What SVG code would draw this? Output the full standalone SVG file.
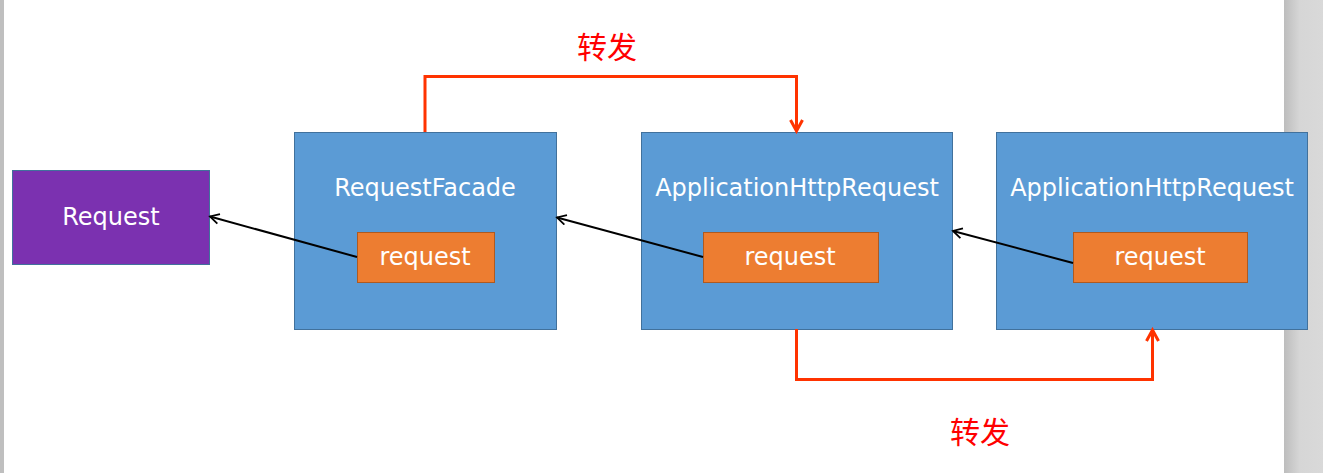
<svg xmlns="http://www.w3.org/2000/svg" width="1323" height="473" viewBox="0 0 1323 473">
<style>
.outer{fill:#5B9BD5;stroke:#41719C;stroke-width:1}
.inner{fill:#ED7D31;stroke:#AE5A21;stroke-width:1}
.lbl{font-family:"DejaVu Sans",Verdana,sans-serif;font-size:24px;fill:#ffffff;text-anchor:middle}
.cn{font-family:"Noto Sans CJK SC",sans-serif;font-size:30px;fill:#FF0000;text-anchor:middle}
.blk{stroke:#000;stroke-width:2;fill:none}
.red{stroke:#FF3300;stroke-width:3;fill:none}
</style>
<defs>
<linearGradient id="side" x1="0" y1="0" x2="1" y2="0">
<stop offset="0" stop-color="#bdbdbd"/>
<stop offset="0.4" stop-color="#d6d6d6"/>
<stop offset="1" stop-color="#d9d9d9"/>
</linearGradient>
<marker id="ab" markerWidth="12" markerHeight="12" refX="10" refY="6" orient="auto" markerUnits="userSpaceOnUse">
<path d="M1,1 L10,6 L1,11" fill="none" stroke="#000" stroke-width="1.8"/>
</marker>
<marker id="ar" markerWidth="16" markerHeight="16" refX="13" refY="8" orient="auto" markerUnits="userSpaceOnUse">
<path d="M2,2 L13,8 L2,14" fill="none" stroke="#FF3300" stroke-width="3"/>
</marker>
</defs>
<rect x="0" y="0" width="1323" height="473" fill="#ffffff"/>
<rect x="0" y="0" width="4" height="473" fill="#bfbfbf"/>
<rect x="1284" y="0" width="39" height="473" fill="url(#side)"/>

<g id="request">
<rect x="12.5" y="170.5" width="197" height="94" fill="#7B31B0" stroke="#41719C"/>
<text class="lbl" x="111" y="225">Request</text>
</g>

<g id="requestFacade">
<rect class="outer" x="294.5" y="132.5" width="262" height="197"/>
<text class="lbl" x="425" y="196">RequestFacade</text>
<rect class="inner" x="357.5" y="232.5" width="137" height="50"/>
<text class="lbl" x="425" y="265">request</text>
</g>

<g id="appHttpRequest1">
<rect class="outer" x="641.5" y="132.5" width="311" height="197"/>
<text class="lbl" x="797" y="196">ApplicationHttpRequest</text>
<rect class="inner" x="703.5" y="232.5" width="175" height="50"/>
<text class="lbl" x="790" y="265">request</text>
</g>

<g id="appHttpRequest2">
<rect class="outer" x="996.5" y="132.5" width="311" height="197"/>
<text class="lbl" x="1152" y="196">ApplicationHttpRequest</text>
<rect class="inner" x="1073.5" y="232.5" width="174" height="50"/>
<text class="lbl" x="1160" y="265">request</text>
</g>

<g id="connectors">
<line class="blk" x1="357" y1="257" x2="210" y2="216.5" marker-end="url(#ab)"/>
<line class="blk" x1="703" y1="257" x2="557" y2="217.5" marker-end="url(#ab)"/>
<line class="blk" x1="1073" y1="263" x2="953" y2="231" marker-end="url(#ab)"/>
<polyline class="red" points="425,132 425,76.5 796.5,76.5 796.5,131" marker-end="url(#ar)"/>
<polyline class="red" points="796.5,329 796.5,379.5 1152.5,379.5 1152.5,330" marker-end="url(#ar)"/>
<text class="cn" x="607" y="58">转发</text>
<text class="cn" x="980" y="443">转发</text>
</g>
</svg>
